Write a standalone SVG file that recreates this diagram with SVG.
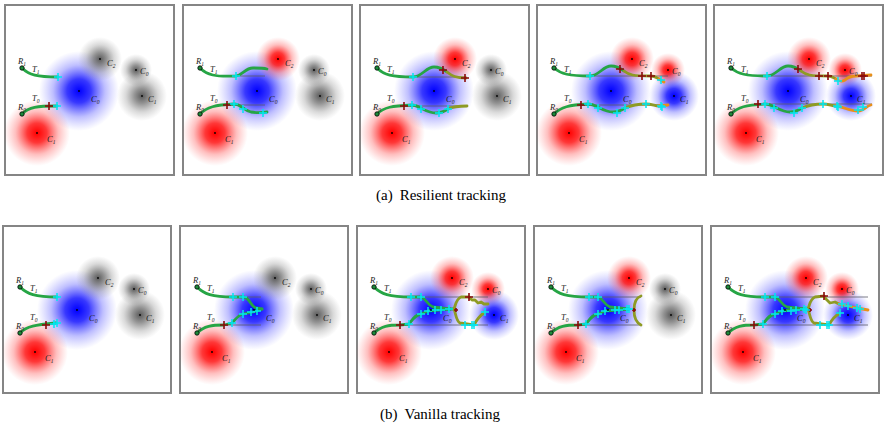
<svg xmlns="http://www.w3.org/2000/svg" xmlns:xlink="http://www.w3.org/1999/xlink" width="888" height="428" viewBox="0 0 888 428">
<style>
.fr{fill:#fff;stroke:#858585;stroke-width:2}
.gl{stroke:#5a5a6a;stroke-width:0.8;fill:none}
.tg{fill:none;stroke:#26a545;stroke-width:2.8;stroke-linecap:round;stroke-linejoin:round}
.to{fill:none;stroke:#8e9b24;stroke-width:2.8;stroke-linecap:round;stroke-linejoin:round}
.tr{fill:none;stroke:#e8901a;stroke-width:2.8;stroke-linecap:round;stroke-linejoin:round}
.cy{stroke:#00e6f2;stroke-width:1.5;fill:none}
.rd{stroke:#8b0a0a;stroke-width:1.6;fill:none}
.m{font-family:"Liberation Serif",serif;font-style:italic;font-size:8.5px;fill:#222}
.s{font-size:5.5px}
.cap{font-family:"Liberation Serif",serif;font-size:15px;fill:#000}
</style>
<defs>
<radialGradient id="gB"><stop offset="0" stop-color="#0000ff"/><stop offset="0.3" stop-color="#0000ff" stop-opacity="0.78"/><stop offset="0.65" stop-color="#2828ff" stop-opacity="0.3"/><stop offset="1" stop-color="#5050ff" stop-opacity="0"/></radialGradient>
<radialGradient id="gR"><stop offset="0" stop-color="#ff0000"/><stop offset="0.3" stop-color="#ff0000" stop-opacity="0.78"/><stop offset="0.65" stop-color="#ff2828" stop-opacity="0.3"/><stop offset="1" stop-color="#ff5050" stop-opacity="0"/></radialGradient>
<radialGradient id="gG"><stop offset="0" stop-color="#5a5a5a"/><stop offset="0.3" stop-color="#666" stop-opacity="0.7"/><stop offset="0.65" stop-color="#777" stop-opacity="0.28"/><stop offset="1" stop-color="#888" stop-opacity="0"/></radialGradient>
<path id="pl" d="M-4,0H4M0,-4V4"/>
<path id="ps" d="M-2,0H2M0,-2V2"/>
<g id="lab">
<circle cx="74" cy="86" r="0.9" fill="#000"/>
<circle cx="32" cy="128" r="0.9" fill="#000"/>
<circle cx="95" cy="54" r="0.9" fill="#000"/>
<circle cx="131" cy="65" r="0.9" fill="#000"/>
<circle cx="137" cy="91" r="0.9" fill="#000"/>
<circle cx="17" cy="63" r="2.2" fill="#1d8a3a" stroke="#000" stroke-width="0.8"/>
<circle cx="17" cy="109" r="2.2" fill="#1d8a3a" stroke="#000" stroke-width="0.8"/>
<text class="m" x="13" y="59">R<tspan class="s" dy="1.5">1</tspan></text>
<text class="m" x="13" y="105">R<tspan class="s" dy="1.5">0</tspan></text>
<text class="m" x="27" y="67">T<tspan class="s" dy="1.5">1</tspan></text>
<text class="m" x="27" y="96">T<tspan class="s" dy="1.5">0</tspan></text>
<text class="m" x="86" y="97">C<tspan class="s" dy="1.5">0</tspan></text>
<text class="m" x="42" y="137">C<tspan class="s" dy="1.5">1</tspan></text>
<text class="m" x="102" y="61">C<tspan class="s" dy="1.5">2</tspan></text>
<text class="m" x="135" y="69">C<tspan class="s" dy="1.5">0</tspan></text>
<text class="m" x="143" y="97">C<tspan class="s" dy="1.5">1</tspan></text>
</g>
</defs>

<!-- Row (a) -->
<g id="a1" transform="translate(5,5)">
<rect class="fr" x="0" y="0" width="169" height="170"/>
<circle cx="74" cy="86" r="40" fill="url(#gB)"/><circle cx="32" cy="128" r="33" fill="url(#gR)"/>
<circle cx="95" cy="54" r="22" fill="url(#gG)"/><circle cx="131" cy="65" r="16" fill="url(#gG)"/><circle cx="137" cy="91" r="25" fill="url(#gG)"/>
<path class="tg" d="M17,63 C24,70 32,72 53,72"/>
<path class="tg" d="M17,109 C24,102 32,101 52,101"/>
<use href="#pl" class="rd" x="44" y="101"/>
<use href="#pl" class="cy" x="53" y="72"/><use href="#pl" class="cy" x="52" y="101"/>
<use href="#lab"/>
</g>

<g id="a2" transform="translate(183,5)">
<rect class="fr" x="0" y="0" width="169" height="170"/>
<circle cx="74" cy="86" r="40" fill="url(#gB)"/><circle cx="32" cy="128" r="33" fill="url(#gR)"/>
<circle cx="95" cy="54" r="22" fill="url(#gR)"/><circle cx="131" cy="65" r="16" fill="url(#gG)"/><circle cx="137" cy="91" r="25" fill="url(#gG)"/>
<path class="gl" d="M53,71H82M44,100H82"/>
<path class="tg" d="M17,63 C24,70 32,72 53,71 C60,70 62,63 70,63 C76,63 80,63 84,64"/>
<path class="tg" d="M17,109 C24,102 32,100 51,99 C58,99 60,105 68,107 C74,108 78,108 84,107"/>
<use href="#pl" class="rd" x="44" y="100"/>
<use href="#pl" class="cy" x="53" y="71"/><use href="#pl" class="cy" x="51" y="99"/><use href="#pl" class="cy" x="60" y="104"/><use href="#pl" class="cy" x="80" y="108"/>
<use href="#lab"/>
</g>

<g id="a3" transform="translate(360,5)">
<rect class="fr" x="0" y="0" width="169" height="170"/>
<circle cx="74" cy="86" r="40" fill="url(#gB)"/><circle cx="32" cy="128" r="33" fill="url(#gR)"/>
<circle cx="95" cy="54" r="22" fill="url(#gR)"/><circle cx="131" cy="65" r="16" fill="url(#gG)"/><circle cx="137" cy="91" r="25" fill="url(#gG)"/>
<path class="gl" d="M53,72H106M44,101H106"/>
<path class="tg" d="M17,63 C24,70 32,72 53,72 C62,72 66,62 74,62 C80,62 83,64 87,67"/>
<path class="to" d="M87,67 C92,71 96,73 106,73"/>
<path class="tg" d="M17,109 C24,102 32,101 52,100 C58,100 62,105 70,107 C76,109 82,108 88,104"/>
<path class="to" d="M88,104 C94,101 100,101 107,101"/>
<use href="#pl" class="rd" x="83" y="65"/><use href="#pl" class="rd" x="105" y="73"/><use href="#pl" class="rd" x="44" y="101"/>
<use href="#pl" class="cy" x="53" y="72"/><use href="#pl" class="cy" x="52" y="100"/><use href="#pl" class="cy" x="61" y="104"/><use href="#pl" class="cy" x="79" y="108"/><use href="#pl" class="cy" x="88" y="104"/>
<use href="#lab"/>
</g>

<g id="a4" transform="translate(537,5)">
<rect class="fr" x="0" y="0" width="169" height="170"/>
<circle cx="74" cy="86" r="40" fill="url(#gB)"/><circle cx="32" cy="128" r="33" fill="url(#gR)"/>
<circle cx="95" cy="54" r="22" fill="url(#gR)"/><circle cx="131" cy="65" r="17" fill="url(#gR)"/><circle cx="137" cy="91" r="25" fill="url(#gB)"/>
<path class="gl" d="M53,71H131M44,100H131"/>
<path class="tg" d="M17,63 C24,69 32,71 53,71 C62,71 66,61 74,61 C80,61 83,63 87,66"/>
<path class="to" d="M87,66 C92,70 96,71 114,71 C118,71 120,73 122,74"/>
<path class="tr" d="M122,74 C124,75 125,76 127,77"/>
<path class="tg" d="M17,109 C24,102 32,100 51,99 C58,99 62,104 70,106 C76,108 82,107 88,103"/>
<path class="to" d="M88,103 C95,100 102,99 109,99 C115,99 118,101 122,101"/>
<path class="tr" d="M122,101 L131,100"/>
<use href="#pl" class="rd" x="83" y="64"/><use href="#pl" class="rd" x="105" y="71"/><use href="#pl" class="rd" x="114" y="71"/><use href="#pl" class="rd" x="44" y="100"/>
<use href="#pl" class="cy" x="53" y="71"/><use href="#pl" class="cy" x="124" y="75"/><use href="#pl" class="cy" x="51" y="99"/><use href="#pl" class="cy" x="61" y="103"/><use href="#pl" class="cy" x="80" y="108"/><use href="#pl" class="cy" x="88" y="103"/><use href="#pl" class="cy" x="109" y="99"/><use href="#pl" class="cy" x="124" y="101"/><use href="#pl" class="cy" x="125" y="102"/>
<use href="#lab"/>
</g>

<g id="a5" transform="translate(714,5)">
<rect class="fr" x="0" y="0" width="169" height="170"/>
<circle cx="74" cy="86" r="40" fill="url(#gB)"/><circle cx="32" cy="128" r="33" fill="url(#gR)"/>
<circle cx="95" cy="54" r="22" fill="url(#gR)"/><circle cx="131" cy="65" r="17" fill="url(#gR)"/><circle cx="137" cy="91" r="25" fill="url(#gB)"/>
<path class="gl" d="M53,71H158M44,99H158"/>
<path class="tg" d="M17,63 C24,69 32,71 53,71 C62,71 66,61 74,61 C80,61 83,63 87,66"/>
<path class="to" d="M87,66 C92,70 96,71 114,71 C118,71 120,73 122,74"/>
<path class="tr" d="M122,74 C126,77 128,77 131,75 C134,72 137,71 142,71 L157,70"/>
<path class="tg" d="M17,109 C24,102 32,100 51,99 C58,99 62,104 70,106 C76,108 82,107 88,103"/>
<path class="to" d="M88,103 C95,100 102,99 109,99 C115,99 118,101 122,101"/>
<path class="tr" d="M122,101 C130,102 136,106 144,106 C150,106 152,101 157,100"/>
<use href="#pl" class="rd" x="84" y="64"/><use href="#pl" class="rd" x="105" y="71"/><use href="#pl" class="rd" x="114" y="71"/><use href="#pl" class="rd" x="148" y="71"/><use href="#pl" class="rd" x="150" y="71"/><use href="#pl" class="rd" x="44" y="99"/>
<use href="#pl" class="cy" x="53" y="71"/><use href="#pl" class="cy" x="124" y="76"/><use href="#pl" class="cy" x="51" y="99"/><use href="#pl" class="cy" x="60" y="103"/><use href="#pl" class="cy" x="80" y="108"/><use href="#pl" class="cy" x="88" y="103"/><use href="#pl" class="cy" x="109" y="99"/><use href="#pl" class="cy" x="123" y="101"/><use href="#pl" class="cy" x="124" y="102"/><use href="#pl" class="cy" x="144" y="105"/><use href="#pl" class="cy" x="149" y="102"/>
<use href="#lab"/>
</g>

<text class="cap" x="441" y="200" text-anchor="middle">(a)<tspan dx="7">Resilient tracking</tspan></text>

<!-- Row (b) -->
<g id="b1" transform="translate(3,224)">
<rect class="fr" x="0" y="2" width="168" height="167"/>
<circle cx="74" cy="86" r="40" fill="url(#gB)"/><circle cx="32" cy="128" r="33" fill="url(#gR)"/>
<circle cx="95" cy="54" r="22" fill="url(#gG)"/><circle cx="131" cy="65" r="16" fill="url(#gG)"/><circle cx="137" cy="91" r="25" fill="url(#gG)"/>
<g transform="translate(0,2)">
<path class="tg" d="M17,61 C24,68 32,71 54,71"/>
<path class="tg" d="M17,107 C24,100 32,99 53,97"/>
<use href="#pl" class="rd" x="43" y="99"/>
<use href="#pl" class="cy" x="54" y="71"/><use href="#pl" class="cy" x="51" y="98"/><use href="#pl" class="cy" x="54" y="97"/>
</g>
<use href="#lab"/>
</g>

<g id="b2" transform="translate(180,224)">
<rect class="fr" x="0" y="2" width="168" height="167"/>
<circle cx="74" cy="86" r="40" fill="url(#gB)"/><circle cx="32" cy="128" r="33" fill="url(#gR)"/>
<circle cx="95" cy="54" r="22" fill="url(#gG)"/><circle cx="131" cy="65" r="16" fill="url(#gG)"/><circle cx="137" cy="91" r="25" fill="url(#gG)"/>
<g transform="translate(0,2)">
<path class="gl" d="M53,71H81M44,99H81"/>
<path class="tg" d="M17,61 C24,68 32,71 53,71 L63,71 C70,71 70,80 76,82 L82,83"/>
<path class="tg" d="M17,107 C24,100 32,99 44,99 L52,97 C56,93 58,89 63,88 L77,85 L82,83"/>
<use href="#pl" class="rd" x="44" y="99"/>
<use href="#pl" class="cy" x="53" y="71"/><use href="#pl" class="cy" x="63" y="71"/><use href="#pl" class="cy" x="52" y="97"/><use href="#pl" class="cy" x="63" y="88"/><use href="#pl" class="cy" x="71" y="86"/><use href="#pl" class="cy" x="77" y="85"/>
</g>
<use href="#lab"/>
</g>

<g id="b3" transform="translate(357,224)">
<rect class="fr" x="0" y="2" width="168" height="167"/>
<circle cx="74" cy="86" r="40" fill="url(#gB)"/><circle cx="32" cy="128" r="33" fill="url(#gR)"/>
<circle cx="95" cy="54" r="22" fill="url(#gR)"/><circle cx="131" cy="65" r="17" fill="url(#gR)"/><circle cx="137" cy="91" r="25" fill="url(#gB)"/>
<g transform="translate(0,2)">
<path class="gl" d="M54,71H131M43,99H131"/>
<path class="tg" d="M17,61 C24,68 32,71 54,71 L64,71 C70,73 70,79 76,81 L93,83"/>
<path class="tg" d="M17,107 C24,100 32,99 43,99 L52,98 C56,93 58,89 64,88 L71,85 L92,83 L98,83"/>
<path class="to" d="M97,83 C99,78 99,73 104,71 L112,71 L115,74 L118,74 L121,77 L124,76 L127,78 L131,78"/>
<path class="to" d="M97,83 C99,88 99,95 103,97 L117,99 C119,95 121,91 128,86"/>
<use href="#pl" class="rd" x="112" y="71"/><use href="#pl" class="rd" x="43" y="99"/><use href="#ps" class="rd" x="99" y="84"/>
<use href="#pl" class="cy" x="54" y="71"/><use href="#pl" class="cy" x="64" y="71"/><use href="#pl" class="cy" x="52" y="98"/><use href="#pl" class="cy" x="64" y="88"/><use href="#pl" class="cy" x="71" y="85"/><use href="#pl" class="cy" x="78" y="84"/><use href="#pl" class="cy" x="84" y="84"/><use href="#pl" class="cy" x="92" y="83"/><use href="#pl" class="cy" x="108" y="99"/><use href="#pl" class="cy" x="115" y="99"/><use href="#pl" class="cy" x="117" y="99"/><use href="#pl" class="cy" x="128" y="86"/>
</g>
<use href="#lab"/>
</g>

<g id="b4" transform="translate(534,224)">
<rect class="fr" x="0" y="2" width="168" height="167"/>
<circle cx="74" cy="86" r="40" fill="url(#gB)"/><circle cx="32" cy="128" r="33" fill="url(#gR)"/>
<circle cx="95" cy="54" r="22" fill="url(#gR)"/><circle cx="131" cy="65" r="16" fill="url(#gG)"/><circle cx="137" cy="91" r="25" fill="url(#gG)"/>
<g transform="translate(0,2)">
<path class="gl" d="M55,71H107M44,99H107"/>
<path class="tg" d="M17,61 C24,68 32,71 55,71 L64,71 C70,73 70,79 76,81 L94,83"/>
<path class="tg" d="M17,107 C24,100 32,99 44,99 L52,98 C56,93 58,89 64,88 L71,85 L95,83"/>
<path class="to" d="M107,70 C101,72 100,80 100,84 C100,90 101,96 107,99"/>
<use href="#pl" class="rd" x="44" y="99"/><use href="#ps" class="rd" x="100" y="84"/>
<use href="#pl" class="cy" x="55" y="71"/><use href="#pl" class="cy" x="64" y="71"/><use href="#pl" class="cy" x="52" y="98"/><use href="#pl" class="cy" x="64" y="88"/><use href="#pl" class="cy" x="71" y="85"/><use href="#pl" class="cy" x="81" y="84"/><use href="#pl" class="cy" x="85" y="84"/><use href="#pl" class="cy" x="93" y="83"/><use href="#pl" class="cy" x="95" y="83"/>
</g>
<use href="#lab"/>
</g>

<g id="b5" transform="translate(711,224)">
<rect class="fr" x="0" y="2" width="168" height="167"/>
<circle cx="74" cy="86" r="40" fill="url(#gB)"/><circle cx="32" cy="128" r="33" fill="url(#gR)"/>
<circle cx="95" cy="54" r="22" fill="url(#gR)"/><circle cx="131" cy="65" r="17" fill="url(#gR)"/><circle cx="137" cy="91" r="25" fill="url(#gB)"/>
<g transform="translate(0,2)">
<path class="gl" d="M54,71H157M43,99H157"/>
<path class="tg" d="M17,61 C24,68 32,71 54,71 L64,71 C70,73 70,79 76,81 L93,83"/>
<path class="tg" d="M17,107 C24,100 32,99 43,99 L52,98 C56,93 58,89 64,88 L71,85 L92,83 L98,83"/>
<path class="to" d="M97,83 C99,78 99,73 104,71 L113,70 L115,73 L119,77 L124,76 L128,78"/>
<path class="tr" d="M128,78 L137,80 L146,82 L157,84"/>
<path class="to" d="M97,83 C99,88 99,95 103,97 L118,99 C120,95 122,91 129,87"/>
<use href="#pl" class="rd" x="113" y="70"/><use href="#pl" class="rd" x="43" y="99"/><use href="#ps" class="rd" x="99" y="84"/>
<use href="#pl" class="cy" x="54" y="71"/><use href="#pl" class="cy" x="64" y="71"/><use href="#pl" class="cy" x="52" y="98"/><use href="#pl" class="cy" x="64" y="88"/><use href="#pl" class="cy" x="71" y="85"/><use href="#pl" class="cy" x="80" y="85"/><use href="#pl" class="cy" x="85" y="84"/><use href="#pl" class="cy" x="93" y="83"/><use href="#pl" class="cy" x="95" y="84"/><use href="#pl" class="cy" x="109" y="99"/><use href="#pl" class="cy" x="116" y="99"/><use href="#pl" class="cy" x="118" y="99"/><use href="#pl" class="cy" x="129" y="87"/><use href="#pl" class="cy" x="131" y="78"/><use href="#pl" class="cy" x="137" y="80"/><use href="#pl" class="cy" x="146" y="82"/><use href="#pl" class="cy" x="149" y="83"/>
</g>
<use href="#lab"/>
</g>

<text class="cap" x="440" y="419" text-anchor="middle">(b)<tspan dx="7">Vanilla tracking</tspan></text>
</svg>
